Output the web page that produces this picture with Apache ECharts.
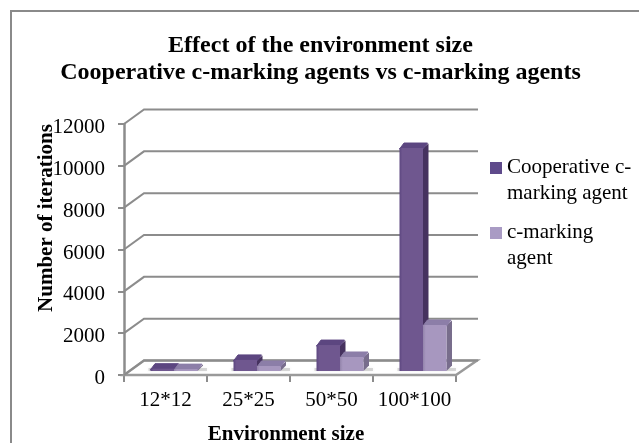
<!DOCTYPE html>
<html><head><meta charset="utf-8">
<style>html,body{margin:0;padding:0;background:#fff}#c{width:639px;height:443px}</style>
<script src="https://cdn.jsdelivr.net/npm/echarts@6/dist/echarts.min.js"></script>
</head><body><div id="c"></div>
<script>
const categories = ['12*12','25*25','50*50','100*100'];
const cooperative = [110, 530, 1240, 10660];
const cMarking = [90, 240, 670, 2200];
const wallTicks = [0,2000,4000,6000,8000,10000,12000];
const names = ['Cooperative c-\nmarking agent','c-marking\nagent'];
const serif = '"Liberation Serif","Times New Roman",serif';
const DX=20, DY=-14.5;
const W=23.5, D=5.5, OX=8.5, OY=-4;
const chart = echarts.init(document.getElementById('c'),null,{renderer:'canvas'});
function wall(params,api){
  const cs=params.coordSys, p=api.coord([0,api.value(1)]), y=p[1], x0=cs.x, x1=cs.x+cs.width;
  const ls={stroke:'#8c8c8c',lineWidth:2,fill:null};
  const kids=[{type:'polyline',shape:{points:[[x0,y],[x0+DX,y+DY],[x1+DX+2,y+DY]]},style:ls,silent:true}];
  if(api.value(1)===0){
    kids.unshift({type:'polygon',shape:{points:[[x0,y],[x0+DX,y+DY],[x1+DX+1,y+DY],[x1,y]]},style:{fill:'#fff',stroke:'#9a9a9a',lineWidth:2.5}});
  }
  return {type:'group',children:kids};
}
function shadow(params,api){
  const b=api.coord([api.value(0),0]), xm=b[0]+OX, yb=b[1]+OY;
  return {type:'rect',shape:{x:xm-W-2,y:yb-3,width:2*W+D+6,height:3},style:{fill:'rgba(110,110,110,0.25)',shadowBlur:3,shadowColor:'rgba(110,110,110,0.4)'}};
}
function bar(sign,colors){
  return function(params,api){
    const c=api.coord([api.value(0),api.value(1)]), b=api.coord([api.value(0),0]);
    const xl=b[0]+OX+(sign<0?-W:0), xr=xl+W, yb=b[1]+OY, yt=Math.min(c[1]+OY,yb-1);
    return {type:'group',children:[
      {type:'polygon',shape:{points:[[xr,yb],[xr+D,yb-D],[xr+D,yt-D+1],[xr,yt]]},style:{fill:colors.side}},
      {type:'polygon',shape:{points:[[xl,yt+1],[xl+D-1,yt-D+0.5],[xr+D-1,yt-D+0.5],[xr,yt+1]]},style:{fill:colors.top,stroke:colors.top,lineWidth:1,lineJoin:'round'}},
      {type:'rect',shape:{x:xl,y:yt,width:W,height:yb-yt},style:{fill:new echarts.graphic.LinearGradient(0,0,1,0,[{offset:0,color:colors.edge},{offset:0.12,color:colors.front},{offset:1,color:colors.front}])}}
    ]};
  };
}
const dark={front:'#6F578F',side:'#46325F',top:'#5C4680',edge:'#5C4680'};
const light={front:'#A797BF',side:'#786D8C',top:'#8C7EA8',edge:'#9384AB'};
chart.setOption({
  animation:false,
  backgroundColor:'#fff',
  graphic:[{type:'rect',z:-1,shape:{x:11,y:11,width:700,height:500},style:{fill:'#fff',stroke:'#8a8a8a',lineWidth:2}}],
  title:{text:'Effect of the environment size\nCooperative c-marking agents vs c-marking agents',left:315.5,top:27,textAlign:'center',
    textStyle:{fontFamily:serif,fontSize:24,fontWeight:'bold',color:'#000',lineHeight:27}},
  legend:{left:490,top:155,padding:0,orient:'vertical',itemWidth:12,itemHeight:37,itemGap:14,icon:'path://M0 0H12V12H0ZM0 37L0 37',align:'left',
    data:[{name:names[0]},{name:names[1]}],selectedMode:false,
    textStyle:{fontFamily:serif,fontSize:21,color:'#000',lineHeight:25.5}},
  grid:{left:124,right:183,top:124,bottom:68,outerBoundsMode:'none'},
  xAxis:{type:'category',data:categories,
    name:'Environment size',nameLocation:'middle',nameGap:49,nameMoveOverlap:false,
    nameTextStyle:{fontFamily:serif,fontSize:21,fontWeight:'bold',color:'#000',padding:[0,8,0,0]},
    axisLine:{show:false},axisTick:{show:true,alignWithLabel:false,length:7,lineStyle:{color:'#8c8c8c',width:2}},
    axisLabel:{fontFamily:serif,fontSize:21,color:'#000',margin:15,interval:0},splitLine:{show:false}},
  yAxis:{type:'value',min:0,max:12000,interval:2000,
    name:'Number of iterations',nameLocation:'middle',nameGap:67,nameMoveOverlap:false,
    nameTextStyle:{fontFamily:serif,fontSize:21,fontWeight:'bold',color:'#000',padding:[0,0,0,63]},
    axisLine:{show:true,lineStyle:{color:'#8c8c8c',width:2.5}},axisTick:{show:true,length:6,lineStyle:{color:'#8c8c8c',width:2}},
    axisLabel:{fontFamily:serif,fontSize:21,color:'#000',margin:19,verticalAlign:'top',lineHeight:7,formatter:v=>String(v)},splitLine:{show:false}},
  series:[
    {type:'custom',silent:true,z:1,renderItem:wall,encode:{x:0,y:1},data:wallTicks.map(t=>[0,t])},
    {type:'custom',silent:true,z:1.5,renderItem:shadow,encode:{x:0,y:1},data:categories.map((c,i)=>[i,0])},
    {type:'custom',name:names[0],z:2,renderItem:bar(-1,dark),encode:{x:0,y:1},itemStyle:{color:'#5F4A8B'},data:cooperative.map((v,i)=>[i,v])},
    {type:'custom',name:names[1],z:3,renderItem:bar(1,light),encode:{x:0,y:1},itemStyle:{color:'#A99BC4'},data:cMarking.map((v,i)=>[i,v])}
  ]
});
</script></body></html>
